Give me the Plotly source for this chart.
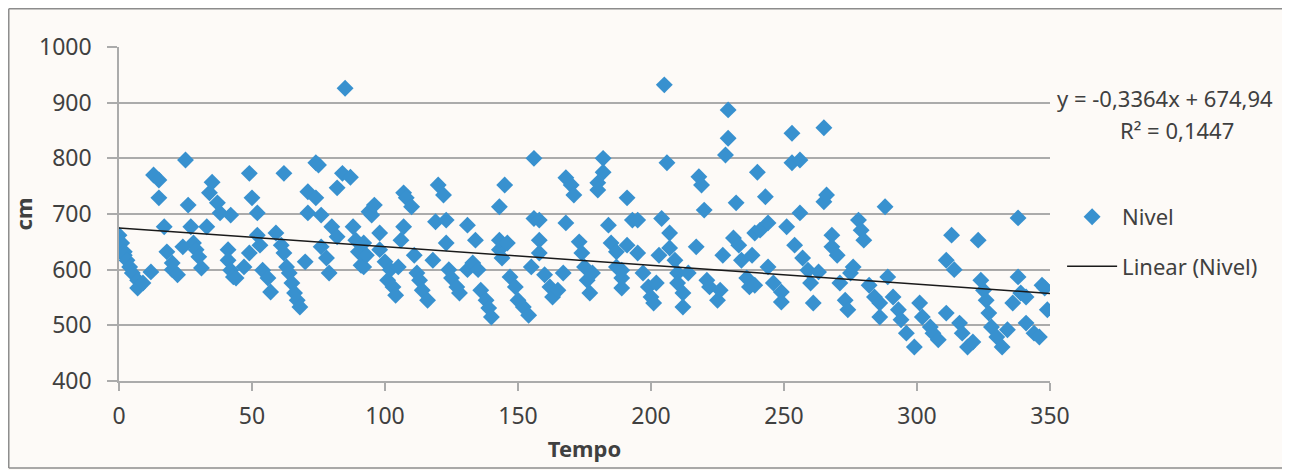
import plotly.graph_objects as go

# ---- data ----
tempo = [0, 1, 2, 2, 3, 4, 5, 7, 7, 9, 12, 13, 15, 15, 17, 18, 20, 20, 22, 24, 25, 26, 27, 28, 29, 30, 31, 33, 34, 35, 37, 38, 41, 41,
         42, 42, 43, 44, 47, 49, 49, 50, 52, 52, 53, 54, 56, 57, 59, 61, 62, 62, 63, 64, 65, 66, 67, 68, 70, 71, 71, 74, 74, 75,
         76, 76, 78, 79, 80, 82, 82, 84, 85, 87, 88, 89, 90, 91, 92, 92, 93, 94, 95, 96, 98, 98, 100, 101, 102, 103, 104, 105,
         106, 107, 107, 108, 110, 111, 112, 113, 114, 116, 118, 119, 120, 122, 123, 123, 124, 125, 127, 128, 131, 131, 133, 134,
         135, 136, 138, 139, 140, 143, 143, 143, 144, 145, 146, 147, 149, 150, 152, 154, 155, 156, 156, 158, 158, 158, 160, 162,
         163, 165, 167, 168, 168, 170, 171, 173, 174, 175, 176, 177, 178, 180, 180, 182, 182, 184, 185, 187, 187, 189, 189, 189,
         191, 191, 193, 195, 195, 197, 199, 200, 201, 202, 203, 204, 205, 206, 207, 207, 209, 210, 210, 212, 212, 214, 217, 218,
         219, 220, 221, 222, 225, 226, 227, 228, 229, 229, 231, 232, 233, 234, 236, 237, 238, 239, 240, 239, 241, 243, 244, 244,
         246, 249, 249, 251, 253, 253, 254, 256, 256, 257, 259, 260, 261, 263, 265, 265, 266, 268, 268, 270, 271, 273, 274, 275,
         276, 278, 279, 280, 282, 284, 286, 286, 288, 289, 291, 293, 294, 296, 299, 301, 302, 305, 306, 308, 311, 311, 313, 314,
         316, 317, 319, 321, 323, 324, 325, 326, 327, 328, 330, 332, 334, 336, 338, 338, 339, 341, 341, 344, 346, 347, 348, 349]
nivel = [662, 648, 632, 626, 617, 605, 594, 581, 567, 576, 596, 770, 761, 729, 677, 632, 612, 600, 591, 641, 797, 716, 677, 648, 636, 623, 603, 677, 738, 757, 720, 702, 636, 617,
         698, 599, 587, 585, 605, 773, 630, 729, 702, 662, 644, 599, 585, 560, 666, 644, 773, 630, 605, 594, 576, 558, 545, 533, 614, 740, 702, 792, 729, 788,
         698, 641, 621, 594, 677, 747, 659, 773, 926, 766, 677, 653, 632, 608, 648, 605, 626, 704, 698, 716, 666, 636, 614, 581, 600, 569, 554, 605,
         653, 738, 677, 729, 713, 626, 594, 581, 563, 545, 617, 686, 752, 734, 689, 648, 600, 585, 569, 558, 680, 600, 612, 653,
         600, 563, 545, 531, 515, 636, 713, 653, 621, 752, 648, 587, 569, 545, 533, 518, 605, 800, 692, 689, 653, 630, 591, 569,
         551, 563, 594, 765, 684, 752, 734, 650, 630, 605, 581, 558, 594, 756, 743, 800, 775, 680, 648, 632, 605, 585, 567, 599,
         729, 644, 689, 689, 630, 594, 569, 551, 540, 576, 626, 692, 932, 792, 666, 639, 617, 594, 576, 558, 533, 594, 641, 767,
         752, 707, 581, 569, 545, 563, 626, 806, 887, 836, 657, 720, 644, 617, 585, 569, 626, 666, 775, 572, 671, 731, 684, 605,
         576, 560, 542, 677, 845, 792, 644, 797, 702, 621, 599, 576, 540, 596, 855, 722, 734, 662, 641, 626, 576, 545, 528, 594,
         605, 689, 671, 653, 572, 551, 540, 515, 713, 587, 551, 528, 510, 486, 461, 540, 515, 497, 486, 474, 522, 617, 662, 600,
         504, 486, 461, 470, 653, 581, 563, 545, 522, 497, 479, 461, 492, 540, 587, 693, 558, 551, 504, 486, 479, 572, 567, 528]

# trendline equation shown on the chart
trend_slope = -0.3364
trend_intercept = 674.94
trend_x = [0, 350]
trend_y = [trend_intercept + trend_slope * v for v in trend_x]

x_ticks = [0, 50, 100, 150, 200, 250, 300, 350]
y_ticks = [400, 500, 600, 700, 800, 900, 1000]

eq_text = "y = -0,3364x + 674,94"
r2_text = "R² = 0,1447"

FONT = "Noto Sans"
TXT = "#404040"
GRID = "#ababab"
BORDER = "#8c8c8c"

fig = go.Figure()
fig.add_trace(go.Scatter(
    x=tempo, y=nivel, mode="markers", name="Nivel", legendgroup="a",
    marker=dict(symbol="diamond", size=13, color="#3891cf", line=dict(width=0)),
))
fig.add_trace(go.Scatter(
    x=trend_x, y=trend_y, mode="lines", name="Linear (Nivel)", legendgroup="b",
    line=dict(color="#1a1a1a", width=1.5),
))

# chart-area frame: left, top and bottom edges (right edge lies outside the picture)
bx0, bx1, by0, by1 = -0.1184, 1.6, -0.2605, 1.1145
frame = [dict(type="line", xref="paper", yref="paper", x0=a, x1=b, y0=c, y1=d,
              line=dict(color=BORDER, width=1.5), layer="below")
         for (a, b, c, d) in [(bx0, bx0, by0, by1), (bx0, bx1, by1, by1), (bx0, bx1, by0, by0)]]

# the page body adds an 8px offset, so the figure is 8px smaller and margins shifted
fig.update_layout(
    width=1282, height=462, autosize=False,
    margin=dict(l=111, r=240, t=39, b=89),
    paper_bgcolor="#fdfaf7", plot_bgcolor="#fdfaf7",
    font=dict(family=FONT, size=22, color=TXT),
    showlegend=True,
    legend=dict(x=1.013, y=0.554, xanchor="left", yanchor="top",
                bgcolor="rgba(0,0,0,0)", itemwidth=50, tracegroupgap=18,
                traceorder="grouped", font=dict(family=FONT, size=22, color=TXT)),
    xaxis=dict(range=[0, 350], tickvals=x_ticks, showgrid=False, zeroline=False,
               showline=True, linecolor=GRID, linewidth=1.5, automargin=False,
               ticks="outside", ticklen=8, tickcolor=GRID, tickwidth=1.5,
               ticklabelstandoff=6,
               tickfont=dict(family=FONT, size=23, color=TXT),
               title=dict(text="Tempo", standoff=11,
                          font=dict(family=FONT, size=22, color=TXT, weight="bold"))),
    yaxis=dict(range=[400, 1000], tickvals=y_ticks, showgrid=True, gridcolor=GRID, gridwidth=1.5,
               zeroline=False, showline=True, linecolor=GRID, linewidth=1.5, automargin=False,
               ticks="outside", ticklen=10, tickcolor=GRID, tickwidth=1.5,
               ticklabelstandoff=11,
               tickfont=dict(family=FONT, size=23, color=TXT),
               title=dict(text="cm", standoff=1,
                          font=dict(family=FONT, size=22, color=TXT, weight="bold"))),
    shapes=frame,
    annotations=[
        dict(text=eq_text, xref="paper", yref="paper", x=1.0054, y=0.847,
             xanchor="left", yanchor="middle", showarrow=False,
             font=dict(family=FONT, size=22, color=TXT)),
        dict(text=r2_text, xref="paper", yref="paper", x=1.1364, y=0.7515,
             xanchor="center", yanchor="middle", showarrow=False,
             font=dict(family=FONT, size=22, color=TXT)),
    ],
)

fig.write_html("out.html")
